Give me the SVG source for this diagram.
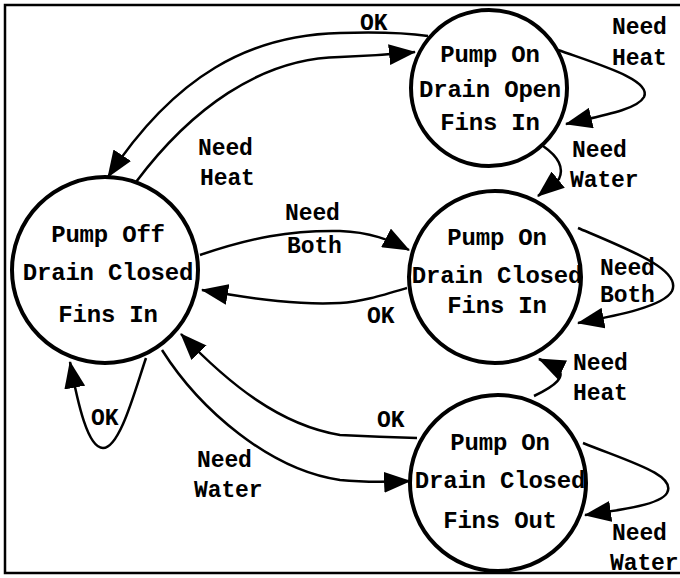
<svg xmlns="http://www.w3.org/2000/svg" width="680" height="578" viewBox="0 0 680 578">
<style>
.frame{fill:none;stroke:#000;stroke-width:2.5}
.node{fill:#fff;stroke:#000;stroke-width:4}
.edge{fill:none;stroke:#000;stroke-width:2.5}
.nt{font-family:"Liberation Mono","DejaVu Sans Mono",monospace;font-weight:bold;font-size:24px;letter-spacing:-0.2px;text-anchor:middle;fill:#000}
.lb{font-family:"Liberation Mono","DejaVu Sans Mono",monospace;font-weight:bold;font-size:23px;letter-spacing:-0.1px;fill:#000}
</style>
<defs>
<marker id="arr" viewBox="0 0 27 21" refX="26" refY="10.5" markerWidth="27" markerHeight="21" markerUnits="userSpaceOnUse" orient="auto">
<path d="M0,0 L27,10.5 L0,21 z" fill="#000"/>
</marker>
</defs>
<rect class="frame" x="5" y="5" width="690" height="568"/>
<g id="connectors">
<path class="edge" marker-end="url(#arr)" d="M136,182 C190,110 260,58 340,57 C370,56 395,54 415,52"/>
<path class="edge" marker-end="url(#arr)" d="M428,36 C400,32 370,32 340,33 C250,35 175,75 108,177"/>
<path class="edge" marker-end="url(#arr)" d="M558,50 C600,65 652,80 644,97 C637,110 600,116 566,124"/>
<path class="edge" marker-end="url(#arr)" d="M543,146 C556,155 565,166 559,179 L538,196"/>
<path class="edge" marker-end="url(#arr)" d="M200,255 C250,238 290,230 340,231 C370,232 390,240 409,250"/>
<path class="edge" marker-end="url(#arr)" d="M407,288 C380,296 360,302 340,303 C300,305 260,300 202,290"/>
<path class="edge" marker-end="url(#arr)" d="M578,228 C630,250 682,270 672,291 C664,306 620,315 578,323"/>
<path class="edge" marker-end="url(#arr)" d="M534,396 C555,386 568,376 556,367 L539,359"/>
<path class="edge" marker-end="url(#arr)" d="M417,438 C380,437 360,436 340,435 C280,425 230,385 181,334"/>
<path class="edge" marker-end="url(#arr)" d="M162,350 C200,410 270,470 340,480 C370,483 390,482 410,481"/>
<path class="edge" marker-end="url(#arr)" d="M583,443 C630,462 677,475 667,493 C660,505 620,510 585,515"/>
<path class="edge" marker-end="url(#arr)" d="M146,358 C135,390 120,448 103,448 C88,448 78,405 70,362"/>
</g>
<g id="labels">
<text class="lb" x="360" y="30">OK</text>
<text class="lb" x="612" y="34">Need</text>
<text class="lb" x="612" y="65">Heat</text>
<text class="lb" x="572" y="157">Need</text>
<text class="lb" x="570" y="187">Water</text>
<text class="lb" x="198" y="155">Need</text>
<text class="lb" x="200" y="185">Heat</text>
<text class="lb" x="285" y="220">Need</text>
<text class="lb" x="287" y="253">Both</text>
<text class="lb" x="367" y="323">OK</text>
<text class="lb" x="600" y="275">Need</text>
<text class="lb" x="600" y="302">Both</text>
<text class="lb" x="573" y="370">Need</text>
<text class="lb" x="573" y="400">Heat</text>
<text class="lb" x="377" y="427">OK</text>
<text class="lb" x="612" y="540">Need</text>
<text class="lb" x="610" y="570">Water</text>
<text class="lb" x="91" y="425">OK</text>
<text class="lb" x="197" y="467">Need</text>
<text class="lb" x="194" y="497">Water</text>
</g>
<g id="pump-off">
<circle class="node" cx="105" cy="270" r="93"/>
<text class="nt" x="108" y="242">Pump Off</text>
<text class="nt" x="108" y="280">Drain Closed</text>
<text class="nt" x="108" y="322">Fins In</text>
</g>
<g id="drain-open">
<circle class="node" cx="489" cy="88" r="78"/>
<text class="nt" x="490" y="62">Pump On</text>
<text class="nt" x="490" y="97">Drain Open</text>
<text class="nt" x="490" y="130">Fins In</text>
</g>
<g id="fins-in">
<circle class="node" cx="495" cy="277" r="86"/>
<text class="nt" x="497" y="245">Pump On</text>
<text class="nt" x="497" y="283">Drain Closed</text>
<text class="nt" x="497" y="313">Fins In</text>
</g>
<g id="fins-out">
<circle class="node" cx="498" cy="483" r="88"/>
<text class="nt" x="500" y="450">Pump On</text>
<text class="nt" x="500" y="488">Drain Closed</text>
<text class="nt" x="500" y="528">Fins Out</text>
</g>
</svg>
